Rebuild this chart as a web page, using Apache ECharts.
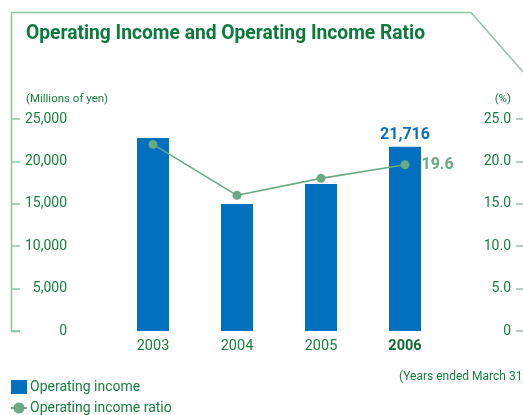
<!DOCTYPE html>
<html>
<head>
<meta charset="utf-8">
<script src="https://cdn.jsdelivr.net/npm/echarts@6/dist/echarts.min.js"></script>
<style>
  html, body { margin: 0; padding: 0; background: #ffffff; }
  #chart { width: 523px; height: 415px; }
</style>
</head>
<body>
<div id="chart"></div>
<script>
// Fiscal years (ended March 31)
const years = ['2003', '2004', '2005', '2006'];
// Operating income, millions of yen
const operatingIncome = [22760, 14980, 17340, 21716];
// Operating income ratio, %
const incomeRatio = [22.0, 16.0, 18.0, 19.6];
// Left and right axis tick ranges
const incomeTicks = { min: 0, max: 25000, interval: 5000 };
const ratioTicks = { min: 0, max: 25, interval: 5 };

const FONT = 'Roboto, "Liberation Sans", sans-serif';
const GREEN_TEXT = '#17803f';
const GREEN_TITLE = '#0b7a3c';
const FRAME = '#8fc3a3';
const BLUE = '#0070bf';
const LINE_GREEN = '#6aa984';

const lastIdx = years.length - 1;

// The heading is set in a condensed cut: squeeze the bold face to its column width
const TITLE_TEXT = 'Operating Income and Operating Income Ratio';
const TITLE_FONT = 'bold 21px ' + FONT;
const TITLE_WIDTH = 399;
const measureCtx = document.createElement('canvas').getContext('2d');
measureCtx.font = TITLE_FONT;
const titleScale = TITLE_WIDTH / measureCtx.measureText(TITLE_TEXT).width;

const chart = echarts.init(document.getElementById('chart'), null, { renderer: 'canvas' });

chart.setOption({
  animation: false,
  backgroundColor: '#ffffff',
  textStyle: { fontFamily: FONT },
  grid: { left: 111, right: 76, top: 119, bottom: 84, containLabel: false },
  legend: {
    orient: 'vertical',
    left: 10,
    top: 380,
    padding: 0,
    itemWidth: 16,
    itemHeight: 14,
    itemGap: 7,
    textStyle: { fontFamily: FONT, fontSize: 14, color: GREEN_TEXT, padding: [0, 0, 0, -2] },
    data: [
      { name: 'Operating income', icon: 'rect' },
      { name: 'Operating income ratio' }
    ]
  },
  xAxis: {
    type: 'category',
    data: years,
    axisLine: { show: false },
    axisTick: { show: false },
    axisLabel: {
      interval: 0,
      margin: 8,
      fontFamily: FONT,
      fontSize: 14.5,
      color: GREEN_TEXT,
      formatter: (v, i) => i === lastIdx ? '{b|' + v + '}' : v,
      rich: { b: { fontFamily: FONT, fontSize: 14.5, fontWeight: 'bold', color: '#0e6b36' } }
    }
  },
  yAxis: [
    {
      type: 'value',
      position: 'left',
      offset: 100,
      min: incomeTicks.min,
      max: incomeTicks.max,
      interval: incomeTicks.interval,
      splitLine: { show: false },
      axisLine: { show: false },
      axisTick: { show: true, inside: true, length: 9, lineStyle: { color: FRAME, width: 1.5 } },
      axisLabel: {
        inside: true,
        margin: 56,
        align: 'right',
        fontFamily: FONT,
        fontSize: 14,
        color: GREEN_TEXT,
        formatter: v => v === 0 ? '0' : v.toLocaleString('en-US')
      }
    },
    {
      type: 'value',
      position: 'right',
      offset: 76,
      min: ratioTicks.min,
      max: ratioTicks.max,
      interval: ratioTicks.interval,
      splitLine: { show: false },
      axisLine: { show: false },
      axisTick: { show: true, inside: true, length: 7, lineStyle: { color: FRAME, width: 1.5 } },
      axisLabel: {
        inside: true,
        margin: 12,
        align: 'right',
        fontFamily: FONT,
        fontSize: 14,
        color: GREEN_TEXT,
        formatter: v => v === 0 ? '0' : v.toFixed(1)
      }
    }
  ],
  series: [
    {
      name: 'Operating income',
      type: 'bar',
      yAxisIndex: 0,
      barWidth: 32,
      itemStyle: { color: BLUE },
      data: operatingIncome.map((v, i) => i === lastIdx ? {
        value: v,
        label: {
          show: true,
          position: 'top',
          distance: 4,
          fontFamily: FONT,
          fontWeight: 'bold',
          fontSize: 16,
          color: '#0a6dbf',
          formatter: p => p.value.toLocaleString('en-US')
        }
      } : v)
    },
    {
      name: 'Operating income ratio',
      type: 'line',
      yAxisIndex: 1,
      symbol: 'circle',
      symbolSize: 9,
      itemStyle: { color: LINE_GREEN },
      lineStyle: { color: LINE_GREEN, width: 1.6 },
      data: incomeRatio.map((v, i) => i === lastIdx ? {
        value: v,
        label: {
          show: true,
          position: 'right',
          distance: 12,
          fontFamily: FONT,
          fontWeight: 'bold',
          fontSize: 16,
          color: LINE_GREEN,
          formatter: p => p.value.toFixed(1)
        }
      } : v)
    }
  ],
  graphic: [
    {
      type: 'polyline',
      silent: true,
      shape: { points: [[20, 331.5], [11.5, 331.5], [11.5, 12.5], [471, 12.5], [524, 73]] },
      style: { stroke: FRAME, lineWidth: 1.5, fill: null }
    },
    {
      type: 'text',
      x: 26,
      y: 23,
      scaleX: titleScale,
      style: { text: TITLE_TEXT, font: TITLE_FONT, fill: GREEN_TITLE, textVerticalAlign: 'top' }
    },
    {
      type: 'text',
      left: 26,
      top: 93,
      style: { text: '(Millions of yen)', font: '11.5px ' + FONT, fill: GREEN_TEXT }
    },
    {
      type: 'text',
      right: 12,
      top: 93,
      style: { text: '(%)', font: '11.5px ' + FONT, fill: GREEN_TEXT }
    },
    {
      type: 'text',
      x: 399,
      y: 371,
      style: { text: '(Years ended March 31)', font: '12px ' + FONT, fill: GREEN_TEXT }
    }
  ]
});
</script>
</body>
</html>
